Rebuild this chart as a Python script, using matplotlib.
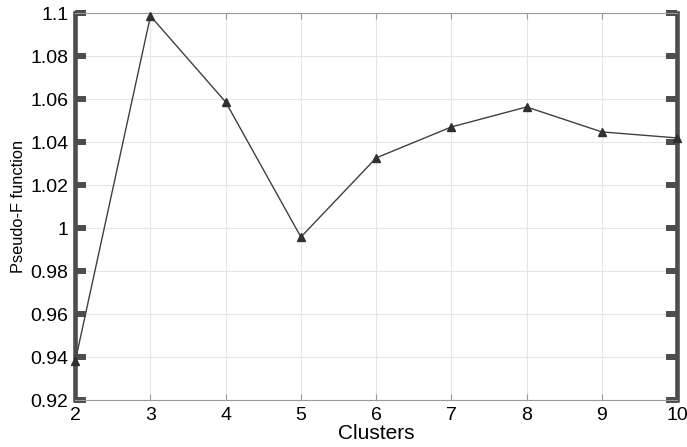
import numpy as np
import matplotlib.pyplot as plt

plt.rcParams['font.family'] = ['Liberation Sans', 'DejaVu Sans']

# data
clusters = [2, 3, 4, 5, 6, 7, 8, 9, 10]
pseudo_f = [0.938, 1.0986, 1.0586, 0.9958, 1.0326, 1.047, 1.0563, 1.0447, 1.0419]
y_ticks = [0.92, 0.94, 0.96, 0.98, 1.0, 1.02, 1.04, 1.06, 1.08, 1.1]
y_labels = ['0.92', '0.94', '0.96', '0.98', '1', '1.02', '1.04', '1.06', '1.08', '1.1']

fig = plt.figure(figsize=(6.87, 4.47), dpi=100)
ax = fig.add_axes([0.1095, 0.1051, 0.876, 0.8658])

ax.plot(clusters, pseudo_f, color='#404040', lw=1.0, marker='^', ms=5.5,
        mfc='#303030', mec='#303030', zorder=3, clip_on=False)

ax.set_xlim(2, 10)
ax.set_ylim(0.92, 1.1)
ax.set_xticks(clusters)
ax.set_yticks(y_ticks)
ax.set_yticklabels(y_labels)

ax.grid(True, color='#e6e6e6', lw=0.8)
ax.set_axisbelow(True)

# thick left/right spines, thin top/bottom
for s in ['left', 'right']:
    ax.spines[s].set_linewidth(3.3)
    ax.spines[s].set_color('#4d4d4d')
for s in ['top', 'bottom']:
    ax.spines[s].set_linewidth(0.8)
    ax.spines[s].set_color('#999999')

ax.tick_params(axis='y', direction='in', length=8, width=4.3, color='#4d4d4d',
               left=True, right=True, labelsize=14, pad=5)
ax.tick_params(axis='x', direction='in', length=4, width=0.8, color='#999999',
               top=True, bottom=True, labelsize=14, pad=5)

ax.set_xlabel('Clusters', fontsize=15, labelpad=0)
ax.set_ylabel('Pseudo-F function', fontsize=11.8, labelpad=3)

fig.savefig('out.png', dpi=100)
